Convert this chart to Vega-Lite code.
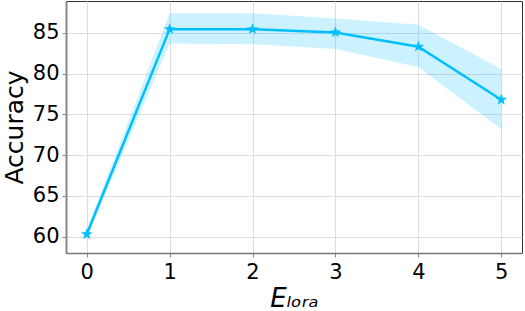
{
  "$schema": "https://vega.github.io/schema/vega-lite/v6.json",
  "autosize": "none",
  "width": 456,
  "height": 252,
  "padding": {"left": 66, "top": 1, "right": 3, "bottom": 58},
  "background": "white",
  "config": {
    "font": "DejaVu Sans",
    "view": {"stroke": "#333333", "strokeWidth": 1}
  },
  "data": {
    "values": [
      {"e": 0, "acc": 60.3, "lo": 59.8, "hi": 60.8},
      {"e": 1, "acc": 85.45, "lo": 83.7, "hi": 87.4},
      {"e": 2, "acc": 85.45, "lo": 83.6, "hi": 87.4},
      {"e": 3, "acc": 85.05, "lo": 83.0, "hi": 86.75},
      {"e": 4, "acc": 83.3, "lo": 80.8, "hi": 86.0},
      {"e": 5, "acc": 76.8, "lo": 73.2, "hi": 80.55}
    ]
  },
  "encoding": {
    "x": {
      "field": "e", "type": "quantitative",
      "scale": {"domain": [-0.25, 5.25], "nice": false, "zero": false},
      "axis": {
        "values": [0, 1, 2, 3, 4, 5], "format": "d",
        "title": "Eₗₒᵣₐ", "titleFontStyle": "italic", "titleFontWeight": "normal",
        "titleFontSize": 26, "titleColor": "black", "titlePadding": 3,
        "labelFontSize": 21, "labelColor": "black", "labelPadding": 4,
        "domain": true, "domainColor": "#777777", "domainWidth": 1.5,
        "tickColor": "#888888", "tickSize": 4,
        "gridColor": "#dddddd"
      }
    }
  },
  "layer": [
    {
      "mark": {"type": "area", "color": "#00BFFF", "opacity": 0.2},
      "encoding": {
        "y": {
          "field": "lo", "type": "quantitative",
          "scale": {"domain": [58.0, 88.9], "nice": false, "zero": false},
          "axis": {
            "values": [60, 65, 70, 75, 80, 85],
            "title": "Accuracy", "titleFontWeight": "normal", "titleFontSize": 25,
            "titleColor": "black", "titlePadding": 5,
            "labelFontSize": 21, "labelColor": "black", "labelPadding": 3,
            "domain": true, "domainColor": "#888888", "domainWidth": 2,
            "tickColor": "#888888", "tickSize": 4, "gridColor": "#dddddd"
          }
        },
        "y2": {"field": "hi"}
      }
    },
    {
      "mark": {"type": "line", "color": "#00BFFF", "strokeWidth": 2.5},
      "encoding": {"y": {"field": "acc", "type": "quantitative"}}
    },
    {
      "mark": {"type": "point", "shape": "M0,-1L0.235,-0.324L0.951,-0.309L0.38,0.124L0.588,0.809L0,0.4L-0.588,0.809L-0.38,0.124L-0.951,-0.309L-0.235,-0.324Z", "filled": true, "color": "#00BFFF", "opacity": 1, "size": 150},
      "encoding": {"y": {"field": "acc", "type": "quantitative"}}
    }
  ]
}
